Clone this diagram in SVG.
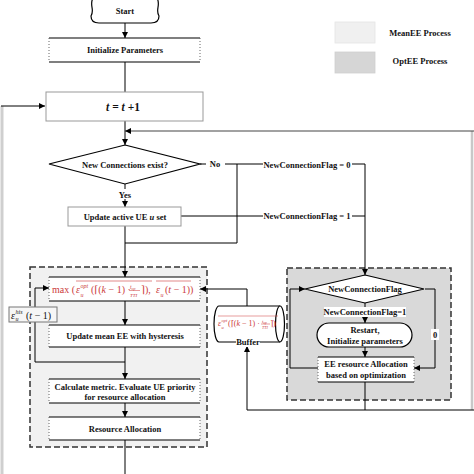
<svg xmlns="http://www.w3.org/2000/svg" width="474" height="474" viewBox="0 0 474 474">
<defs>
<marker id="ah" viewBox="0 0 10 10" refX="10" refY="5" markerWidth="6" markerHeight="6" markerUnits="userSpaceOnUse" orient="auto"><path d="M0,0 L10,5 L0,10 z" fill="#000"/></marker>
<style>
.t{font-family:"Liberation Serif","Times New Roman",serif;font-weight:bold;font-size:8.5px;fill:#111;text-anchor:middle}
.m{font-family:"Liberation Serif","DejaVu Serif",serif;fill:#cc3b3b}
.k{font-family:"Liberation Serif","DejaVu Serif",serif;fill:#111}
.i{font-style:italic}
.c{fill:none;stroke:#000;stroke-width:1}
.a{fill:none;stroke:#000;stroke-width:1;marker-end:url(#ah)}
.sl{stroke:#000;stroke-width:1.2}
.dot{stroke:#666;stroke-width:1;stroke-dasharray:1,2}
.grp{stroke:#333;stroke-width:1.5;stroke-dasharray:6,3}
.lb{fill:#fff}
</style>
</defs>
<rect width="474" height="474" fill="#fff"/>

<!-- side gray strips -->
<line x1="2" y1="106" x2="2" y2="474" stroke="#cfcfcf" stroke-width="3"/>
<line x1="472" y1="131" x2="472" y2="410" stroke="#c8c8c8" stroke-width="2.5"/>

<!-- legend -->
<g id="legend">
<rect x="335" y="22" width="40" height="21" fill="#f0f0f0" stroke="#e4e4e4" stroke-width="0.8"/>
<text class="t" x="420" y="36">MeanEE Process</text>
<rect x="335" y="52" width="40" height="21" fill="#d6d6d6" stroke="#cfcfcf" stroke-width="0.8"/>
<text class="t" x="420" y="64">OptEE Process</text>
</g>

<!-- group backgrounds -->
<g id="meanEE-group"><rect class="grp" x="30" y="267" width="177" height="180" fill="#f1f1f1"/></g>
<g id="optEE-group"><rect class="grp" x="287" y="268" width="164" height="132" fill="#d9d9d9"/></g>

<!-- connectors -->
<g id="connectors">
<path class="a" d="M125,23 V38"/>
<path class="c" d="M125,62 V92"/>
<path class="a" d="M1,106 H45"/>
<path class="a" d="M125,121 V145"/>
<path d="M474,131 H125" fill="none" stroke="#444" stroke-width="1.2" marker-end="url(#ah)"/>
<path class="a" d="M125,184 V207"/>
<path class="a" d="M200,164 H365 V275"/>
<path class="c" d="M237,164 V243 H125"/>
<path class="c" d="M181,216 H365"/>
<path class="a" d="M125,226 V277"/>
<path class="a" d="M125,301 V325"/>
<path class="a" d="M125,347 V379"/>
<path class="a" d="M125,362 H35 V288 H49"/>
<path class="a" d="M125,403 V417"/>
<path class="c" d="M125,440 V474"/>
<path class="a" d="M247,306 V289 H200"/>
<path class="a" d="M247,410 V346"/>
<path class="c" d="M247,410 H474"/>
<path class="c" d="M365,382 V410"/>
<path class="a" d="M365,303 V323"/>
<path class="a" d="M365,347 V357"/>
<path class="a" d="M318,368 H290 V289 H305"/>
<path class="a" d="M425,289 H435 V368 H414"/>
<!-- connector labels -->
<rect class="lb" x="116" y="189" width="18" height="10"/>
<text class="t" x="125" y="198">Yes</text>
<rect class="lb" x="206" y="159" width="19" height="10"/>
<text class="t" x="215" y="167">No</text>
<rect class="lb" x="263" y="159" width="89" height="10"/>
<text class="t" x="307" y="167.5">NewConnectionFlag = 0</text>
<rect class="lb" x="263" y="211" width="89" height="10"/>
<text class="t" x="307" y="219">NewConnectionFlag = 1</text>
<rect class="lb" x="324" y="307" width="82" height="10"/>
<text class="t" x="365" y="315">NewConnectionFlag=1</text>
<rect class="lb" x="431" y="329" width="8" height="11"/>
<text class="t" x="435" y="338">0</text>
</g>

<!-- nodes -->
<g id="start">
<path d="M93,-2 C89,5 95,10 91,16 Q91,23 99,23 L151,23 Q159,23 159,16 C155,10 161,5 157,-2" fill="#fff" stroke="#000" stroke-width="1.2"/>
<text class="t" x="125" y="14">Start</text>
</g>

<g id="init">
<rect x="49" y="38" width="151" height="24" fill="#fff"/>
<line class="sl" x1="49" y1="38" x2="200" y2="38"/><line class="sl" x1="49" y1="62" x2="200" y2="62"/>
<line class="dot" x1="49" y1="38" x2="49" y2="62"/><line class="dot" x1="200" y1="38" x2="200" y2="62"/>
<text class="t" x="125" y="53">Initialize Parameters</text>
</g>

<g id="tstep">
<rect x="46" y="92" width="157" height="29" fill="#fff" stroke="#999" stroke-width="1"/>
<text class="t" x="123" y="111" style="font-size:11.5px"><tspan class="i">t</tspan> = <tspan class="i">t</tspan> +1</text>
</g>

<g id="decision">
<path d="M125,145 L200,164 L125,184 L49,164 Z" fill="#fff" stroke="#000" stroke-width="1.2"/>
<text class="t" x="125" y="167.5">New Connections exist?</text>
</g>

<g id="update-ue">
<rect x="68" y="207" width="113" height="19" fill="#fff" stroke="#999" stroke-width="1"/>
<text class="t" x="125" y="219.5">Update active UE <tspan class="i">u</tspan> set</text>
</g>

<g id="max-box">
<rect x="49" y="277" width="151" height="24" fill="#fff"/>
<line class="sl" x1="49" y1="277" x2="200" y2="277"/><line class="sl" x1="49" y1="301" x2="200" y2="301"/>
<line class="dot" x1="49" y1="277" x2="49" y2="301"/><line class="dot" x1="200" y1="277" x2="200" y2="301"/>
<g class="m" font-size="10">
<text x="52" y="293">max (</text>
<text x="76" y="293" class="i">ε</text>
<text x="80.5" y="296.5" font-size="6" class="i">u</text>
<text x="80.5" y="287.5" font-size="6" class="i">opt</text>
<text x="91" y="293">(⌈(<tspan class="i">k</tspan> − 1) · </text>
<text x="130" y="289" font-size="5.5" class="i">t<tspan font-size="4" dy="1">op</tspan></text>
<line x1="129" y1="290.5" x2="140" y2="290.5" stroke="#cc3b3b" stroke-width="0.5"/>
<text x="130" y="297" font-size="5" class="i">TTI</text>
<text x="141" y="293">⌉), </text>
<text x="156" y="293" class="i">ε</text>
<text x="160.5" y="296.5" font-size="6" class="i">u</text>
<text x="165" y="293">(<tspan class="i">t</tspan> − 1))</text>
<line x1="76" y1="281" x2="152" y2="281" stroke="#cc3b3b" stroke-width="0.6"/>
<line x1="156" y1="281" x2="191" y2="281" stroke="#cc3b3b" stroke-width="0.6"/>
</g>
</g>

<g id="update-mean">
<rect x="49" y="325" width="151" height="22" fill="#fff"/>
<line class="sl" x1="49" y1="325" x2="200" y2="325"/><line class="sl" x1="49" y1="347" x2="200" y2="347"/>
<line class="dot" x1="49" y1="325" x2="49" y2="347"/><line class="dot" x1="200" y1="325" x2="200" y2="347"/>
<text class="t" x="125" y="339">Update mean EE with hysteresis</text>
</g>

<g id="his-label">
<rect x="9" y="307" width="48" height="15" fill="#f6f6f6" stroke="#777" stroke-width="1"/>
<g class="k" font-size="10">
<text x="11" y="318.5" class="i">ε</text>
<text x="15.5" y="314" font-size="6" class="i">his</text>
<text x="15.5" y="321" font-size="6" class="i">u</text>
<text x="26" y="318.5">(<tspan class="i">t</tspan> − 1)</text>
</g>
</g>

<g id="calc">
<rect x="49" y="379" width="151" height="24" fill="#fff"/>
<line class="sl" x1="49" y1="379" x2="200" y2="379"/><line class="sl" x1="49" y1="403" x2="200" y2="403"/>
<line class="dot" x1="49" y1="379" x2="49" y2="403"/><line class="dot" x1="200" y1="379" x2="200" y2="403"/>
<text class="t" x="125" y="389.5">Calculate metric. Evaluate UE priority</text>
<text class="t" x="125" y="399.5">for resource allocation</text>
</g>

<g id="resource">
<rect x="49" y="417" width="151" height="23" fill="#fff"/>
<line class="sl" x1="49" y1="417" x2="200" y2="417"/><line class="sl" x1="49" y1="440" x2="200" y2="440"/>
<line class="dot" x1="49" y1="417" x2="49" y2="440"/><line class="dot" x1="200" y1="417" x2="200" y2="440"/>
<text class="t" x="125" y="431.5">Resource Allocation</text>
</g>

<g id="buffer">
<rect x="219" y="306" width="61" height="36" fill="#fff"/>
<path d="M219,306 H280 M219,342 H280 M219,306 A5,18 0 0,0 219,342" fill="none" stroke="#000" stroke-width="1.2"/>
<ellipse cx="280" cy="324" rx="4.5" ry="18" fill="#fff" stroke="#000" stroke-width="1.2"/>
<g class="m" font-size="8">
<text x="218" y="326" class="i">ε</text>
<text x="221.5" y="328.5" font-size="4.5" class="i">u</text>
<text x="221.5" y="321.5" font-size="4.5" class="i">opt</text>
<text x="228" y="326">(⌈(<tspan class="i">k</tspan> − 1) · </text>
<text x="262" y="322.5" font-size="4.5" class="i">t<tspan font-size="3.5" dy="1">op</tspan></text>
<line x1="261" y1="324" x2="270" y2="324" stroke="#cc3b3b" stroke-width="0.5"/>
<text x="262" y="329" font-size="4" class="i">TTI</text>
<text x="270" y="326">⌉)</text>
<line x1="218" y1="316" x2="278" y2="316" stroke="#cc3b3b" stroke-width="0.5"/>
</g>
<rect class="lb" x="236" y="337" width="24" height="10"/>
<text class="t" x="248" y="345">Buffer</text>
</g>

<g id="flag-decision">
<path d="M365,275 L424,289 L365,303 L305,289 Z" fill="#fff" stroke="#000" stroke-width="1.2"/>
<text class="t" x="365" y="292">NewConnectionFlag</text>
</g>

<g id="restart">
<rect x="317" y="323" width="95" height="24" rx="12" fill="#fff" stroke="#000" stroke-width="1.2"/>
<text class="t" x="365" y="333">Restart,</text>
<text class="t" x="365" y="343.5">Initialize parameters</text>
</g>

<g id="ee-opt">
<rect x="318" y="357" width="96" height="25" fill="#fff"/>
<line class="sl" x1="318" y1="357" x2="414" y2="357"/><line class="sl" x1="318" y1="382" x2="414" y2="382"/>
<line class="dot" x1="318" y1="357" x2="318" y2="382"/><line class="dot" x1="414" y1="357" x2="414" y2="382"/>
<text class="t" x="366" y="367">EE resource Allocation</text>
<text class="t" x="366" y="377.5">based on optimization</text>
</g>
</svg>
